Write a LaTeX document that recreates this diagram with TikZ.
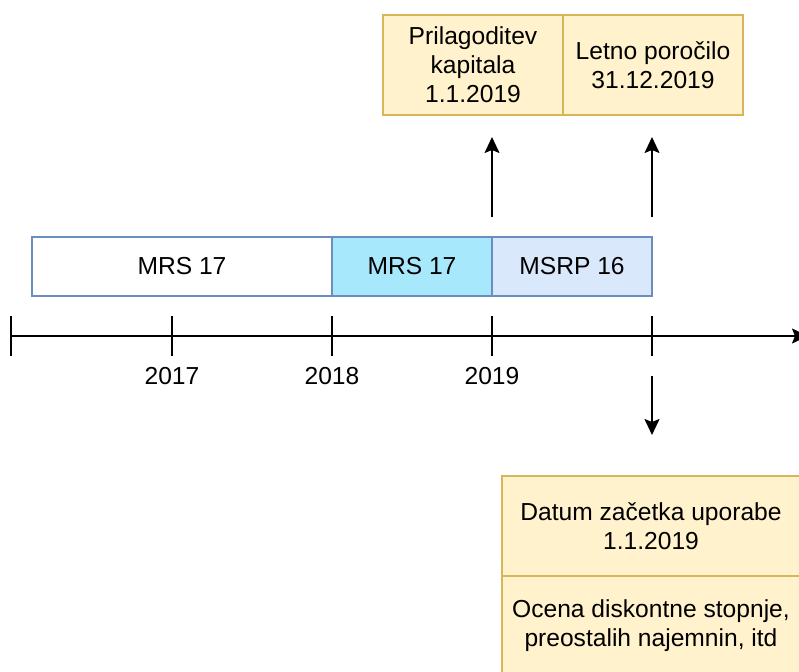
\documentclass[tikz,border=0pt]{standalone}
\usepackage{fontspec}
\setmainfont{Liberation Sans}
\usetikzlibrary{arrows.meta,positioning}
\definecolor{noteyellow}{RGB}{255,242,204}
\definecolor{noteborder}{RGB}{214,182,86}
\definecolor{barblue}{RGB}{108,142,191}
\definecolor{barcyan}{RGB}{168,232,252}
\definecolor{barlight}{RGB}{218,232,252}
\tikzset{
    notebox/.style={draw=noteborder, fill=noteyellow, align=center,
        minimum width=90pt, minimum height=50pt, inner sep=2pt, outer sep=0pt},
    barbox/.style={draw=barblue, align=center,
        minimum height=29.5pt, inner sep=0pt, outer sep=0pt},
    timearrow/.style={-{Stealth[length=8pt,width=7.5pt,inset=1.5pt]}, line width=0.9pt},
    tickline/.style={line width=0.9pt}
}

\begin{document}
\begin{tikzpicture}[x=0.5pt, y=-0.5pt, font=\fontsize{12.3}{14.5}\selectfont,
        line width=0.6pt]
        \clip (0,0) rectangle (799,671);

        \node[notebox] (adjust) at (473,65)
            {Prilagoditev\\kapitala\\1.1.2019};
        \node[notebox, right=0pt of adjust] (report)
            {Letno poročilo\\31.12.2019};

        \node[barbox, fill=white, minimum width=150pt] (oldmrs) at (182,266.5)
            {MRS 17};
        \node[barbox, fill=barcyan, minimum width=80pt, right=0pt of oldmrs]
            (newmrs) {MRS 17};
        \node[barbox, fill=barlight, minimum width=80pt, right=0pt of newmrs]
            (msrp) {MSRP 16};

        \node[notebox, minimum width=149pt] (startdate) at (651,526)
            {Datum začetka uporabe\\1.1.2019};
        \node[notebox, minimum width=149pt, below=0pt of startdate] (estimate)
            {Ocena diskontne stopnje,\\preostalih najemnin, itd};

        % time axis
        \coordinate (axisstart) at (11,336);
        \coordinate (axisend) at (808,336);
        \draw[timearrow] (axisstart) -- (axisend);
        \foreach \x in {11,172,332,492,652}
            \draw[tickline] (\x,316) -- (\x,356);
        \foreach \x/\year in {172/2017,332/2018,492/2019}
            \node (year\year) at (\x,376) {\year};

        \draw[timearrow] ([yshift=10pt]msrp.north west)
            -- ([yshift=-11pt]msrp.north west |- adjust.south);
        \draw[timearrow] ([yshift=10pt]msrp.north east)
            -- ([yshift=-11pt]msrp.north east |- report.south);
        \draw[timearrow] ([yshift=-40pt]msrp.south east)
            -- ([yshift=20.5pt]msrp.south east |- startdate.north);
    \end{tikzpicture}
\end{document}
